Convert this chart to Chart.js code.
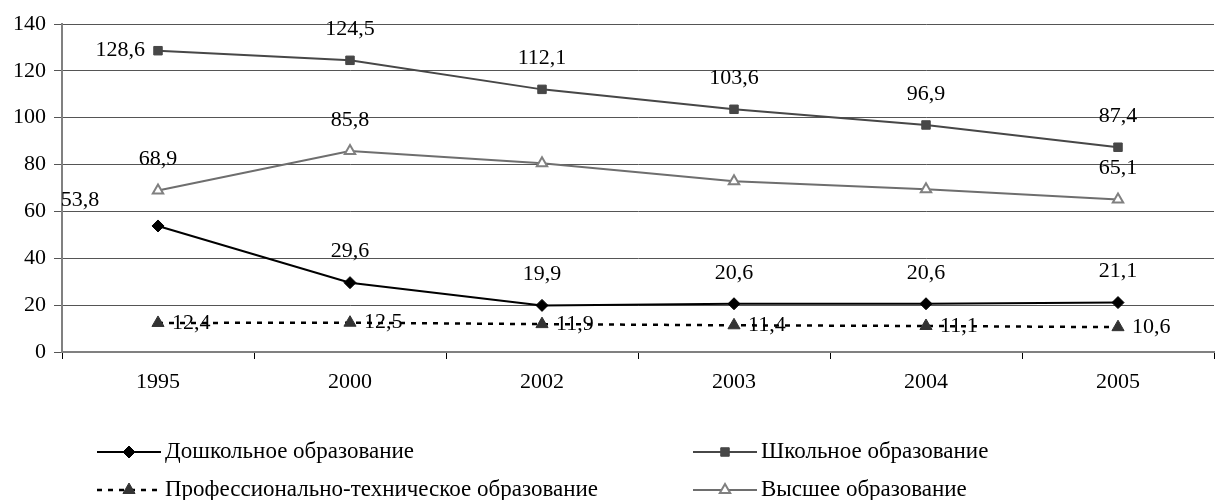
<!DOCTYPE html>
<html>
<head>
<meta charset="utf-8">
<script src="https://cdn.jsdelivr.net/npm/chart.js@4/dist/chart.umd.min.js"></script>
<style>
    html, body { margin: 0; padding: 0; background: #fff; overflow: hidden; }
    #wrap { width: 1218px; height: 500px; overflow: hidden; }
</style>
</head>
<body>
<div id="wrap"><canvas id="eduChart" width="1222" height="500"></canvas></div>
<script>
const years = ['1995', '2000', '2002', '2003', '2004', '2005'];
const preschool = [53.8, 29.6, 19.9, 20.6, 20.6, 21.1];
const school = [128.6, 124.5, 112.1, 103.6, 96.9, 87.4];
const vocational = [12.4, 12.5, 11.9, 11.4, 11.1, 10.6];
const higher = [68.9, 85.8, 80.6, 72.9, 69.5, 65.1];
const yTicks = [0, 20, 40, 60, 80, 100, 120, 140];

const FONT = '"Liberation Serif", "Times New Roman", serif';

// where each value label sits relative to its point (null = no label)
const labelPlace = {
    preschool: ['upleft', 'above', 'above', 'above', 'above', 'above'],
    school: ['left', 'above', 'above', 'above', 'above', 'above'],
    vocational: ['right', 'right', 'right', 'right', 'right', 'right'],
    higher: ['above', 'above', null, null, null, 'above']
};

const fmt = (v) => v.toFixed(1).replace('.', ',');

function drawMarker(ctx, ds, x, y) {
    ctx.save();
    ctx.fillStyle = ds.pointBackgroundColor;
    ctx.strokeStyle = ds.pointBorderColor;
    ctx.lineWidth = ds.pointBorderWidth;
    Chart.helpers.drawPoint(ctx, {
        pointStyle: ds.pointStyle,
        radius: ds.pointRadius,
        rotation: 0,
        borderWidth: ds.pointBorderWidth
    }, x, y);
    ctx.restore();
}

const valueLabels = {
    id: 'valueLabels',
    afterDatasetsDraw(chart) {
        const ctx = chart.ctx;
        ctx.save();
        ctx.font = '22px ' + FONT;
        ctx.fillStyle = '#000';
        ctx.textBaseline = 'middle';
        chart.data.datasets.forEach((ds, i) => {
            const meta = chart.getDatasetMeta(i);
            const places = labelPlace[ds.key];
            meta.data.forEach((pt, j) => {
                const place = places[j];
                if (!place) return;
                let x = pt.x, y = pt.y;
                if (place === 'above') {
                    ctx.textAlign = 'center';
                    y -= 31;
                } else if (place === 'left') {
                    ctx.textAlign = 'right';
                    x -= 13;
                } else if (place === 'right') {
                    ctx.textAlign = 'left';
                    x += 14;
                } else {
                    ctx.textAlign = 'center';
                    x -= 78;
                    y -= 26;
                }
                ctx.fillText(fmt(ds.data[j]), x, y);
            });
        });
        ctx.restore();
    }
};

const legendItems = [
    { idx: 0, x: 97, y: 452 },
    { idx: 1, x: 693, y: 452 },
    { idx: 2, x: 97, y: 490 },
    { idx: 3, x: 693, y: 490 }
];

const lineLegend = {
    id: 'lineLegend',
    afterDraw(chart) {
        const ctx = chart.ctx;
        ctx.save();
        legendItems.forEach((it) => {
            const ds = chart.data.datasets[it.idx];
            ctx.strokeStyle = ds.borderColor;
            ctx.lineWidth = ds.borderWidth;
            ctx.setLineDash(ds.borderDash || []);
            ctx.beginPath();
            ctx.moveTo(it.x, it.y);
            ctx.lineTo(it.x + 64, it.y);
            ctx.stroke();
            ctx.setLineDash([]);
            drawMarker(ctx, ds, it.x + 32, it.y);
            ctx.fillStyle = '#000';
            ctx.font = '23px ' + FONT;
            ctx.textAlign = 'left';
            ctx.textBaseline = 'middle';
            ctx.fillText(ds.label, it.x + 68, it.y);
        });
        ctx.restore();
    }
};

new Chart(document.getElementById('eduChart'), {
    type: 'line',
    data: {
        labels: years,
        datasets: [
            {
                key: 'preschool',
                label: 'Дошкольное образование',
                data: preschool,
                borderColor: '#000',
                borderWidth: 2,
                pointStyle: 'rectRot',
                pointRadius: 6,
                pointBackgroundColor: '#000',
                pointBorderColor: '#000',
                pointBorderWidth: 1
            },
            {
                key: 'school',
                label: 'Школьное образование',
                data: school,
                borderColor: '#474747',
                borderWidth: 2,
                pointStyle: 'rect',
                pointRadius: 6,
                pointBackgroundColor: '#474747',
                pointBorderColor: '#474747',
                pointBorderWidth: 1
            },
            {
                key: 'vocational',
                label: 'Профессионально-техническое образование',
                data: vocational,
                borderColor: '#000',
                borderWidth: 2.5,
                borderDash: [5, 6],
                pointStyle: 'triangle',
                pointRadius: 7,
                pointBackgroundColor: '#333',
                pointBorderColor: '#333',
                pointBorderWidth: 1
            },
            {
                key: 'higher',
                label: 'Высшее образование',
                data: higher,
                borderColor: '#6e6e6e',
                borderWidth: 2,
                pointStyle: 'triangle',
                pointRadius: 6,
                pointBackgroundColor: '#fff',
                pointBorderColor: '#808080',
                pointBorderWidth: 2
            }
        ]
    },
    options: {
        responsive: false,
        animation: false,
        events: [],
        layout: { padding: { top: 24, right: 1, bottom: 108, left: 0 } },
        plugins: {
            legend: { display: false },
            tooltip: { enabled: false }
        },
        scales: {
            x: {
                offset: true,
                grid: {
                    offset: true,
                    drawOnChartArea: false,
                    color: '#000',
                    tickLength: 7
                },
                border: { color: '#808080', width: 2 },
                ticks: { color: '#000', font: { family: FONT, size: 22 }, padding: 10 },
                afterFit: (s) => {
                    s.height = 40;
                    s.paddingLeft = 0;
                    s.paddingRight = 0;
                }
            },
            y: {
                min: 0,
                max: 140,
                afterBuildTicks: (s) => { s.ticks = yTicks.map(v => ({ value: v })); },
                grid: { color: '#555', lineWidth: 1, tickLength: 8 },
                border: { color: '#808080', width: 2 },
                ticks: { color: '#000', font: { family: FONT, size: 22 }, padding: 8 },
                afterFit: (s) => {
                    s.width = 62;
                    s.paddingTop = 0;
                    s.paddingBottom = 0;
                }
            }
        }
    },
    plugins: [valueLabels, lineLegend]
});
</script>
</body>
</html>
